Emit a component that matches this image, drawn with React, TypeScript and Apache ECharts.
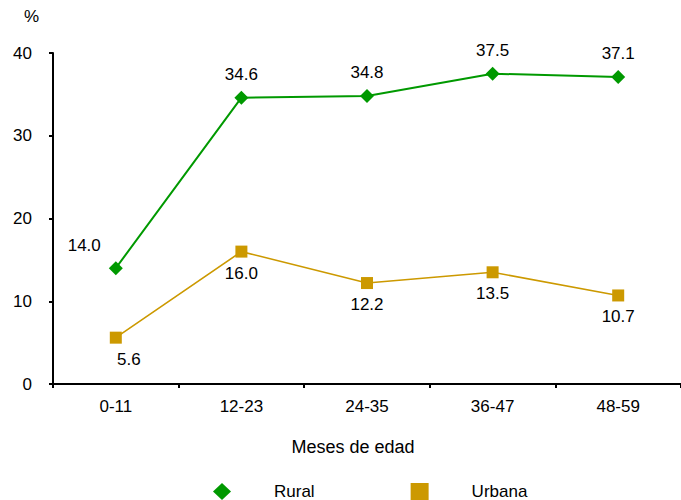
import React, { useEffect, useRef } from "react";
import * as echarts from "echarts";

const categories = ["0-11", "12-23", "24-35", "36-47", "48-59"];
const rural = [14.0, 34.6, 34.8, 37.5, 37.1];
const urbana = [5.6, 16.0, 12.2, 13.5, 10.7];
const yTicks = { min: 0, max: 40, interval: 10 };

const FONT = "Liberation Sans, Arial, sans-serif";

export default function App() {
  const ref = useRef<HTMLDivElement>(null);
  useEffect(() => {
    document.body.style.margin = "0";
    const chart = echarts.init(ref.current!, null, { renderer: "svg" });
    const txt = { color: "#000", fontFamily: FONT, fontSize: 17 };
    chart.setOption({
      animation: false,
      textStyle: { fontFamily: FONT },
      grid: { left: 53, top: 53, width: 633, height: 331 },
      xAxis: {
        type: "category",
        data: categories,
        boundaryGap: true,
        axisLine: { lineStyle: { color: "#000", width: 2 } },
        axisTick: { show: true, length: 4, lineStyle: { color: "#000", width: 2 } },
        axisLabel: { ...txt, margin: 14 },
        splitLine: { show: false },
      },
      yAxis: {
        type: "value",
        min: yTicks.min,
        max: yTicks.max,
        interval: yTicks.interval,
        axisLine: { show: true, lineStyle: { color: "#000", width: 2 } },
        axisTick: { show: true, length: 4, lineStyle: { color: "#000", width: 2 } },
        axisLabel: { ...txt, margin: 21 },
        splitLine: { show: false },
      },
      legend: {
        top: 478,
        left: 208,
        itemGap: 96,
        itemWidth: 18,
        itemHeight: 17,
        textStyle: { ...txt, lineHeight: 17, padding: [0, 0, 0, 38] },
        data: [
          { name: "Rural", icon: "diamond" },
          { name: "Urbana", icon: "rect" },
        ],
      },
      graphic: [
        { type: "text", left: 24, top: 8, style: { text: "%", fill: "#000", font: `17px ${FONT}` } },
        {
          type: "text",
          x: 353,
          y: 438,
          style: { text: "Meses de edad", fill: "#000", font: `18px ${FONT}`, textAlign: "center" },
        },
      ],
      series: [
        {
          name: "Rural",
          type: "line",
          data: rural.map((v, i) =>
            i === 0
              ? { value: v, label: { position: "left", offset: [0, -23] } }
              : v
          ),
          symbol: "diamond",
          symbolSize: 14,
          itemStyle: { color: "#009900" },
          lineStyle: { color: "#009900", width: 2 },
          label: { show: true, position: "top", distance: 8, ...txt, formatter: (p: any) => p.value.toFixed(1) },
        },
        {
          name: "Urbana",
          type: "line",
          data: urbana.map((v, i) =>
            i === 0 ? { value: v, label: { offset: [13, 0] } } : v
          ),
          symbol: "rect",
          symbolSize: 12,
          itemStyle: { color: "#CC9900" },
          lineStyle: { color: "#CC9900", width: 1.6 },
          label: { show: true, position: "bottom", distance: 7, ...txt, formatter: (p: any) => p.value.toFixed(1) },
        },
      ],
    });
    return () => chart.dispose();
  }, []);
  return <div ref={ref} style={{ width: 681, height: 500 }} />;
}
